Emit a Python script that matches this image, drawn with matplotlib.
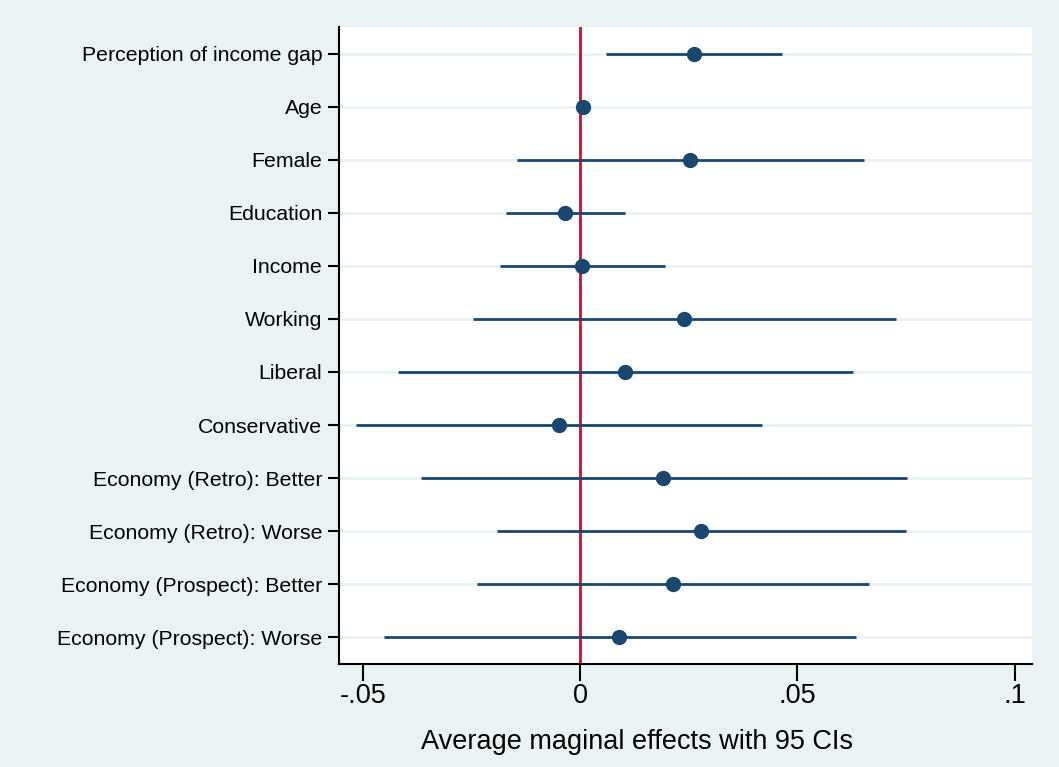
import matplotlib
matplotlib.use("Agg")
import matplotlib.pyplot as plt

labels = ["Perception of income gap", "Age", "Female", "Education", "Income",
          "Working", "Liberal", "Conservative", "Economy (Retro): Better",
          "Economy (Retro): Worse", "Economy (Prospect): Better",
          "Economy (Prospect): Worse"]
est = [0.0263, 0.0007, 0.0253, -0.0035, 0.0005, 0.0240, 0.0104, -0.0048,
       0.0191, 0.0279, 0.0214, 0.0090]
lo = [0.0060, 0.0005, -0.0145, -0.0170, -0.0184, -0.0247, -0.0419, -0.0516,
      -0.0366, -0.0191, -0.0237, -0.0452]
hi = [0.0465, 0.0009, 0.0654, 0.0104, 0.0196, 0.0728, 0.0629, 0.0419,
      0.0753, 0.0749, 0.0666, 0.0634]
xticks = [-0.05, 0, 0.05, 0.1]
xticklabels = ["-.05", "0", ".05", ".1"]

bg = "#EAF2F3"
navy = "#1A476F"
red = "#C8102E"

fig = plt.figure(figsize=(10.59, 7.67), dpi=100, facecolor=bg)
ax = fig.add_axes([0.320, 0.1345, 0.6545, 0.8303])
ax.set_facecolor("white")

ypos = list(range(len(labels)))
for y in ypos:
    ax.axhline(y, color=bg, lw=2, zorder=0)

ax.axvline(0, color=red, lw=2, zorder=2)
ax.hlines(ypos, lo, hi, color=navy, lw=2, zorder=3)
ax.plot(est, ypos, "o", color=navy, ms=10, zorder=4)

ax.set_ylim(len(labels) - 0.5, -0.5)
ax.set_xlim(-0.0555, 0.104)
ax.set_yticks(ypos)
ax.set_yticklabels(labels, fontsize=15.3, family="Liberation Sans")
ax.set_xticks(xticks)
ax.set_xticklabels(xticklabels, fontsize=19.5, family="Liberation Sans")
ax.tick_params(axis="y", length=8, width=1.5, pad=4)
ax.tick_params(axis="x", length=12, width=1.5, pad=2)
ax.set_xlabel("Average maginal effects with 95 CIs", fontsize=19.5,
              family="Liberation Sans")
ax.xaxis.set_label_coords(0.43, -0.103)

for s in ["top", "right"]:
    ax.spines[s].set_visible(False)
for s in ["left", "bottom"]:
    ax.spines[s].set_linewidth(1.5)

fig.savefig("out.png", dpi=100, facecolor=bg)
